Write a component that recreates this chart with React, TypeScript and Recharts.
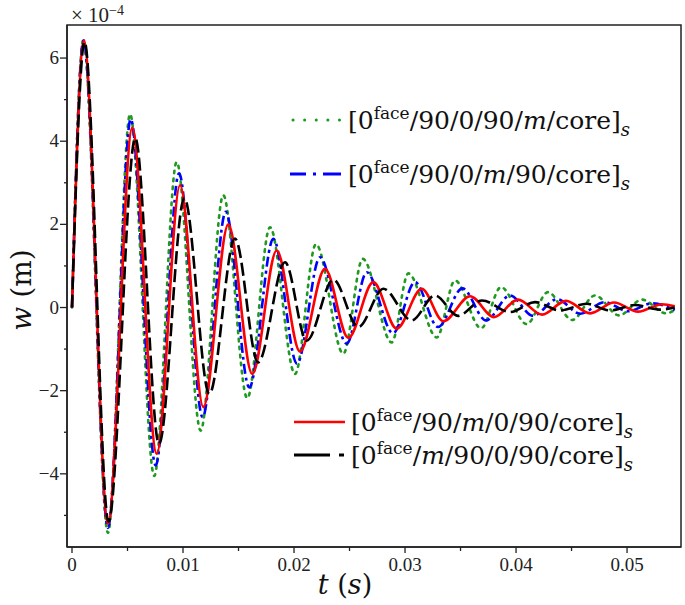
import { LineChart, Line, XAxis, YAxis, ReferenceArea } from 'recharts'

// time (s) and deflection (x 1e-4 m): start, peaks/troughs, end
const greenT = [0, 0.00102, 0.00324, 0.00523, 0.00741, 0.00943, 0.01159, 0.01363, 0.01579, 0.01784, 0.02009, 0.02198, 0.02444, 0.02619, 0.0288, 0.0303, 0.03286, 0.0345, 0.03685, 0.03865, 0.04096, 0.04288, 0.04505, 0.04712, 0.04928, 0.05135, 0.05351, 0.0543]
const greenW = [0, 6.43, -5.42, 4.65, -4.05, 3.5, -2.96, 2.7, -2.18, 1.93, -1.6, 1.52, -1.11, 1.17, -0.84, 0.82, -0.72, 0.65, -0.5, 0.49, -0.4, 0.37, -0.3, 0.29, -0.19, 0.19, -0.14, -0.06]

const blueT = [0, 0.00104, 0.00324, 0.00529, 0.00754, 0.00964, 0.01177, 0.01385, 0.01597, 0.01814, 0.02027, 0.02234, 0.02475, 0.02655, 0.02892, 0.0309, 0.03297, 0.03517, 0.0373, 0.03946, 0.04153, 0.04369, 0.04577, 0.04798, 0.05009, 0.05225, 0.0543]
const blueW = [0, 6.43, -5.3, 4.53, -3.8, 3.23, -2.64, 2.3, -1.92, 1.65, -1.35, 1.21, -0.87, 0.85, -0.62, 0.61, -0.47, 0.46, -0.31, 0.29, -0.2, 0.2, -0.15, 0.13, -0.09, 0.1, -0.06]

const redT = [0, 0.00108, 0.00324, 0.00543, 0.00763, 0.00973, 0.01183, 0.01408, 0.01624, 0.01844, 0.02054, 0.02279, 0.02489, 0.02714, 0.02925, 0.0315, 0.03345, 0.03586, 0.03802, 0.04018, 0.04234, 0.0445, 0.04667, 0.04883, 0.05099, 0.05315, 0.0543]
const redW = [0, 6.42, -5.2, 4.32, -3.52, 2.94, -2.39, 2.0, -1.6, 1.37, -1.06, 0.93, -0.73, 0.61, -0.51, 0.45, -0.33, 0.27, -0.23, 0.19, -0.17, 0.16, -0.14, 0.12, -0.1, 0.08, 0.03]

const blackT = [0, 0.00113, 0.00329, 0.0057, 0.00784, 0.01012, 0.01237, 0.01468, 0.01676, 0.01919, 0.02114, 0.02354, 0.02579, 0.02805, 0.0306, 0.0327, 0.03477, 0.03694, 0.03946, 0.04171, 0.04396, 0.04637, 0.04847, 0.05068, 0.05297, 0.0543]
const blackW = [0, 6.39, -5.15, 4.07, -3.28, 2.63, -2.08, 1.66, -1.32, 1.09, -0.8, 0.67, -0.47, 0.45, -0.31, 0.29, -0.2, 0.17, -0.11, 0.13, -0.07, 0.09, -0.07, 0.06, -0.05, 0]

const xTicks = [0, 0.005, 0.01, 0.015, 0.02, 0.025, 0.03, 0.035, 0.04, 0.045, 0.05]
const yTicks = [-5, -4, -3, -2, -1, 0, 1, 2, 3, 4, 5, 6]

const X_DOMAIN = [-0.00045, 0.05486]
const Y_DOMAIN = [-5.76, 6.795]
const AXIS = '#222'

const toRows = (t: number[], w: number[]) => t.map((v, i) => ({ t: v, w: w[i] }))

const series = [
  { key: 'g', data: toRows(greenT, greenW), color: '#1f9a1f', dash: '2.5 5.5' },
  { key: 'b', data: toRows(blueT, blueW), color: '#0000ff', dash: '10 4 3 4' },
  { key: 'r', data: toRows(redT, redW), color: '#ff0000', dash: undefined },
  { key: 'k', data: toRows(blackT, blackW), color: '#000000', dash: '13 5' },
]

const serif = 'Liberation Serif, Times New Roman, serif'
const mathFont = 'DejaVu Serif, serif'

function XTick(p: any) {
  const v = p.payload.value
  const major = Math.round(v * 1000) % 10 === 0
  return (
    <g>
      <line x1={p.x} x2={p.x} y1={p.y} y2={p.y + (major ? 6 : 4)} stroke={AXIS} strokeWidth={1.3} />
      {major && (
        <text x={p.x} y={p.y + 24} textAnchor="middle" fontFamily={serif} fontSize={19} fill="#222">
          {v === 0 ? '0' : v.toFixed(2)}
        </text>
      )}
    </g>
  )
}

function YTick(p: any) {
  const v = p.payload.value
  const major = v % 2 === 0
  return (
    <g>
      <line x1={p.x} x2={p.x - (major ? 7 : 3)} y1={p.y} y2={p.y} stroke={AXIS} strokeWidth={1.3} />
      {major && (
        <text x={p.x - 8} y={p.y + 6} textAnchor="end" fontFamily={serif} fontSize={19} fill="#222">
          {v < 0 ? '\u2212' + Math.abs(v) : String(v)}
        </text>
      )}
    </g>
  )
}

// "[0^face/<layers>/core]_s" with the m layer in italics
function LegendLabel({ x, y, layers }: { x: number; y: number; layers: string[] }) {
  return (
    <text x={x} y={y} fontFamily={mathFont} fontSize={25} fill="#111">
      [0
      <tspan fontSize={17} dy={-10}>face</tspan>
      <tspan dy={10}>/</tspan>
      {layers.map((l, i) => (
        <tspan key={i}>
          <tspan fontStyle={l === 'm' ? 'italic' : 'normal'}>{l}</tspan>/
        </tspan>
      ))}
      <tspan>core]</tspan>
      <tspan fontStyle="italic" fontSize={18} dy={7}>s</tspan>
    </text>
  )
}

export default function App() {
  return (
    <div style={{ position: 'absolute', left: 0, top: 0, width: 685, height: 605, background: '#fff' }}>
      <LineChart width={685} height={605} margin={{ top: 25, right: 4, left: 0, bottom: 0 }}>
        <XAxis
          type="number"
          dataKey="t"
          domain={X_DOMAIN}
          allowDataOverflow
          ticks={xTicks}
          interval={0}
          height={58}
          tickSize={0}
          tickMargin={0}
          tickLine={false}
          tick={<XTick />}
          axisLine={{ stroke: AXIS, strokeWidth: 1.5 }}
        />
        <YAxis
          type="number"
          dataKey="w"
          domain={Y_DOMAIN}
          allowDataOverflow
          ticks={yTicks}
          interval={0}
          width={67}
          tickSize={0}
          tickMargin={0}
          tickLine={false}
          tick={<YTick />}
          axisLine={{ stroke: AXIS, strokeWidth: 1.5 }}
        />
        <ReferenceArea
          x1={X_DOMAIN[0]}
          x2={X_DOMAIN[1]}
          y1={Y_DOMAIN[0]}
          y2={Y_DOMAIN[1]}
          fill="none"
          stroke={AXIS}
          strokeWidth={1.5}
          ifOverflow="visible"
        />
        {series.map((s) => (
          <Line
            key={s.key}
            data={s.data}
            dataKey="w"
            type="monotone"
            stroke={s.color}
            strokeWidth={2.6}
            strokeDasharray={s.dash}
            strokeLinecap={s.key === 'g' ? 'round' : 'butt'}
            dot={false}
            activeDot={false}
            isAnimationActive={false}
          />
        ))}
      </LineChart>

      <svg width={685} height={605} style={{ position: 'absolute', left: 0, top: 0, pointerEvents: 'none' }}>
        {/* ×10^-4 multiplier */}
        <text x={71} y={22} fontFamily={serif} fontSize={21} fill="#222">
          {'\u00d7 10'}
          <tspan fontSize={14} dy={-7}>{'\u22124'}</tspan>
        </text>

        {/* axis titles */}
        <text x={345} y={594} textAnchor="middle" fontFamily={mathFont} fontSize={27} fill="#111">
          <tspan fontStyle="italic">t</tspan> (<tspan fontStyle="italic">s</tspan>)
        </text>
        <text
          x={0}
          y={0}
          transform="translate(31 290) rotate(-90)"
          textAnchor="middle"
          fontFamily={mathFont}
          fontSize={28}
          fill="#111"
        >
          <tspan fontStyle="italic">w</tspan> (m)
        </text>

        {/* legend */}
        <line x1={293} x2={341} y1={120} y2={120} stroke="#1f9a1f" strokeWidth={3} strokeDasharray="0.1 11.5" strokeLinecap="round" />
        <LegendLabel x={348} y={129} layers={['90', '0', '90', 'm']} />
        <line x1={290} x2={341} y1={174} y2={174} stroke="#0000ff" strokeWidth={3} strokeDasharray="16 7 3 7 18" />
        <LegendLabel x={348} y={183} layers={['90', '0', 'm', '90']} />
        <line x1={294} x2={345} y1={422} y2={422} stroke="#ff0000" strokeWidth={2.5} />
        <LegendLabel x={351} y={431} layers={['90', 'm', '0', '90']} />
        <line x1={294} x2={344} y1={455} y2={455} stroke="#000" strokeWidth={3} strokeDasharray="36 9 5 100" />
        <LegendLabel x={351} y={464} layers={['m', '90', '0', '90']} />
      </svg>
    </div>
  )
}
